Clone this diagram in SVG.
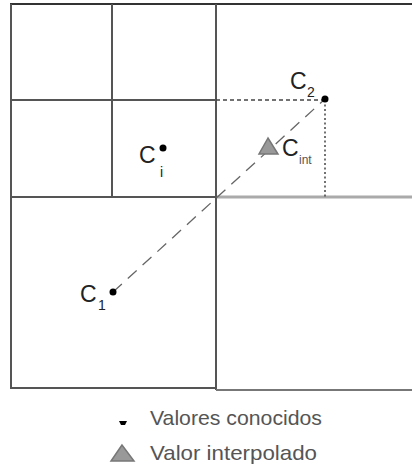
<svg xmlns="http://www.w3.org/2000/svg" width="412" height="465" viewBox="0 0 412 465">
<style>
.grid{stroke:#555;stroke-width:2;fill:none}
.light{stroke:#aaa;stroke-width:3;fill:none}
.dot{fill:#000}
.lbl{font-family:"Liberation Sans",Arial,sans-serif;fill:#222}
.big{font-size:23px}
.sub{font-size:14px}
.leg{font-family:"Liberation Sans",Arial,sans-serif;font-size:21px;fill:#555}
.tri{fill:#999;stroke:#777;stroke-width:1.5}
</style>
<rect width="412" height="465" fill="#fff"/>
<g id="grid">
<line class="grid" x1="10" y1="4" x2="412" y2="4" style="stroke:#333"/>
<line class="grid" x1="11" y1="4" x2="11" y2="389"/>
<line class="grid" x1="112" y1="4" x2="112" y2="197"/>
<line class="grid" x1="11" y1="100" x2="216" y2="100"/>
<line class="grid" x1="11" y1="197" x2="216" y2="197"/>
<line class="light" x1="216" y1="197" x2="412" y2="197"/>
<line class="grid" x1="216" y1="4" x2="216" y2="390"/>
<line class="grid" x1="10" y1="388" x2="216" y2="388"/>
<line class="grid" x1="216" y1="390" x2="412" y2="390" style="stroke:#777"/>
</g>
<g id="connectors">
<line x1="113" y1="292" x2="325" y2="99" stroke="#666" stroke-width="1.3" stroke-dasharray="12 8"/>
<line x1="216" y1="100" x2="325" y2="100" stroke="#444" stroke-width="1.3" stroke-dasharray="4 3"/>
<line x1="325" y1="100" x2="325" y2="197" stroke="#444" stroke-width="1.5" stroke-dasharray="2 2.5"/>
</g>
<g id="c2">
<circle class="dot" cx="325" cy="99" r="3.5"/>
<text class="lbl big" x="290" y="89">C</text>
<text class="lbl sub" x="307" y="97">2</text>
</g>
<g id="ci">
<circle class="dot" cx="163" cy="148" r="3.5"/>
<text class="lbl big" x="139" y="163">C</text>
<text class="lbl sub" x="160" y="177">i</text>
</g>
<g id="c1">
<circle class="dot" cx="113" cy="292" r="3.5"/>
<text class="lbl big" x="80" y="302">C</text>
<text class="lbl sub" x="98" y="310">1</text>
</g>
<g id="cint">
<polygon class="tri" points="268,138 259,154 278,154"/>
<text class="lbl big" x="282" y="156">C</text>
<text class="lbl" x="299" y="164" font-size="12" style="fill:#555">int</text>
</g>
<g id="legend">
<path d="M119,421 L127,421 L125,425 L121,425 Z" fill="#000"/>
<text class="leg" x="150" y="425" textLength="172" lengthAdjust="spacingAndGlyphs">Valores conocidos</text>
<polygon class="tri" points="122,445 111,461 134,461"/>
<text class="leg" x="150" y="460" textLength="167" lengthAdjust="spacingAndGlyphs">Valor interpolado</text>
</g>
</svg>
